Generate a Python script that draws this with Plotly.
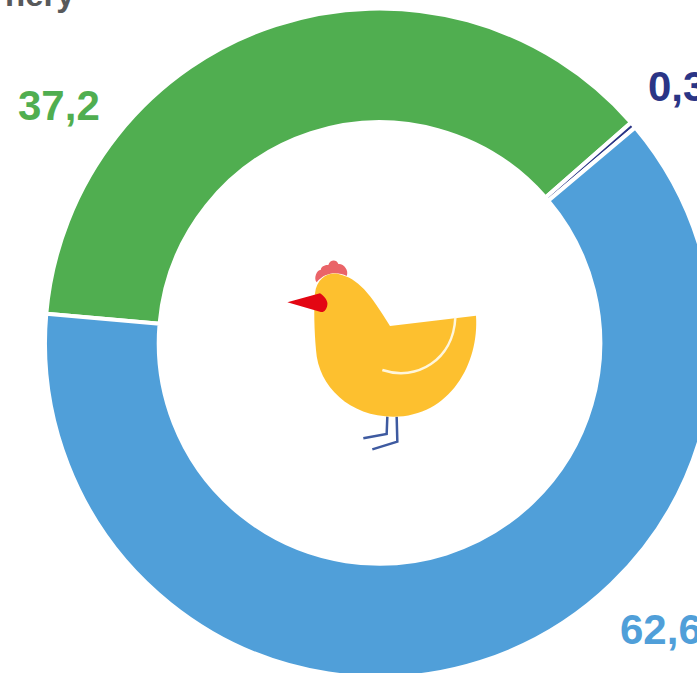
import plotly.graph_objects as go

labels = ["Green", "Navy", "Blue"]
values = [37.2, 0.3, 62.6]
colors = ["#50AE50", "#2A3586", "#509FD9"]
value_labels = ["37,2", "0,3", "62,6"]
label_left = [16, 646, 618]
label_mid = [105, 86, 629]
title_fragment = "nery"

W, H = 760, 686
CX, CY, R = 379.5, 343, 334.5


def px(x):
    return x / W


def py(y):
    return 1 - y / H


def zoom_path(cmds, close=True):
    # points are measured in a 3x crop of the chicken whose origin is (270, 250)
    parts = []
    for c, pts in cmds:
        coords = " ".join(f"{px(270 + a / 3):.5f},{py(250 + b / 3):.5f}" for a, b in pts)
        parts.append(f"{c}{coords}")
    return " ".join(parts) + (" Z" if close else "")


body = zoom_path([
    ("M", [(135, 130)]),
    ("C", [(140, 85), (175, 65), (205, 72)]),
    ("C", [(265, 85), (300, 130), (360, 228)]),
    ("L", [(618, 197)]),
    ("C", [(628, 340), (540, 500), (370, 500)]),
    ("C", [(240, 500), (145, 410), (138, 300)]),
    ("C", [(133, 240), (131, 180), (135, 130)]),
])
beak = zoom_path([
    ("M", [(52, 157)]),
    ("L", [(150, 130)]),
    ("C", [(165, 140), (175, 155), (172, 165)]),
    ("C", [(170, 180), (160, 190), (150, 185)]),
])
comb = zoom_path([
    ("M", [(140, 97)]),
    ("C", [(130, 85), (140, 60), (152, 60)]),
    ("C", [(155, 45), (170, 45), (175, 45)]),
    ("C", [(180, 28), (200, 28), (205, 42)]),
    ("C", [(220, 40), (238, 60), (230, 78)]),
    ("C", [(205, 65), (165, 65), (140, 97)]),
])
wing = zoom_path([
    ("M", [(337, 360)]),
    ("C", [(440, 395), (550, 330), (556, 203)]),
], close=False)
leg1 = zoom_path([("M", [(352, 500)]), ("L", [(350, 552)]), ("L", [(280, 565)])], close=False)
leg2 = zoom_path([("M", [(380, 500)]), ("L", [(382, 575)]), ("L", [(307, 598)])], close=False)

shapes = [
    dict(type="path", xref="paper", yref="paper", path=leg1, line=dict(color="#3E5AA0", width=2.5)),
    dict(type="path", xref="paper", yref="paper", path=leg2, line=dict(color="#3E5AA0", width=2.5)),
    dict(type="path", xref="paper", yref="paper", path=comb, fillcolor="#EA6468", line=dict(width=0)),
    dict(type="path", xref="paper", yref="paper", path=body, fillcolor="#FDC02F", line=dict(width=0)),
    dict(type="path", xref="paper", yref="paper", path=beak, fillcolor="#E30613", line=dict(width=0)),
    dict(type="path", xref="paper", yref="paper", path=wing, line=dict(color="#FFF6DC", width=2.5)),
]

fig = go.Figure(go.Pie(
    labels=labels,
    values=values,
    hole=0.66,
    sort=False,
    direction="clockwise",
    rotation=275,
    textinfo="none",
    marker=dict(colors=colors, line=dict(color="#FFFFFF", width=4)),
    domain=dict(x=[(CX - R) / W, (CX + R) / W], y=[(H - CY - R) / H, (H - CY + R) / H]),
    showlegend=False,
))

annotations = [
    dict(text=f"<b>{t}</b>", x=px(l), y=py(m), xref="paper", yref="paper",
         xanchor="left", yanchor="middle", showarrow=False,
         font=dict(family="Liberation Sans", size=42, color=c))
    for t, l, m, c in zip(value_labels, label_left, label_mid, colors)
]
annotations.append(dict(
    text=f"<b>{title_fragment}</b>", x=px(77), y=py(-5), xref="paper", yref="paper",
    xanchor="right", yanchor="middle", showarrow=False,
    font=dict(family="Liberation Sans", size=33, color="#58595B"),
))

fig.update_layout(
    width=W, height=H, autosize=False,
    margin=dict(l=0, r=0, t=0, b=0),
    paper_bgcolor="#FFFFFF",
    shapes=shapes,
    annotations=annotations,
)

fig.write_html(
    "out.html",
    config=dict(displayModeBar=False),
    post_script="document.documentElement.style.overflow='hidden';document.body.style.margin='0';document.body.style.overflow='hidden';",
)
